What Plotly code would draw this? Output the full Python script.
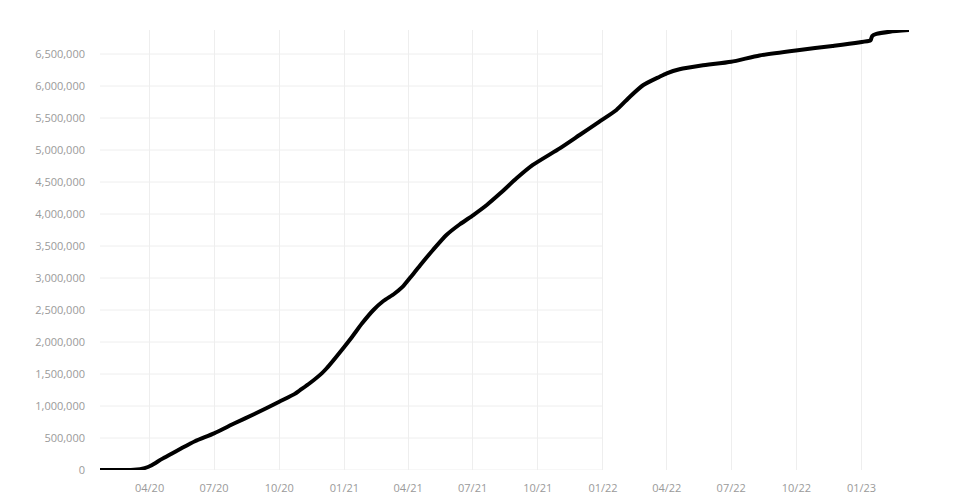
import plotly.graph_objects as go

dates = [
    "2020-01-22", "2020-03-10", "2020-03-25", "2020-04-04", "2020-04-18", "2020-05-02",
    "2020-05-16", "2020-06-04", "2020-07-01", "2020-07-30", "2020-08-27",
    "2020-10-01", "2020-10-23", "2020-10-30", "2020-11-13", "2020-11-30",
    "2020-12-07", "2021-01-01", "2021-01-12", "2021-01-26", "2021-02-11",
    "2021-02-25", "2021-03-12", "2021-03-24", "2021-04-05", "2021-04-18",
    "2021-05-06", "2021-05-25", "2021-06-13", "2021-07-02", "2021-07-21",
    "2021-08-09", "2021-09-01", "2021-09-24", "2021-11-01", "2021-11-29",
    "2021-12-27", "2022-01-20", "2022-02-08", "2022-02-27", "2022-03-22",
    "2022-04-01", "2022-04-19", "2022-05-20", "2022-07-01", "2022-08-10",
    "2022-10-03", "2022-11-21", "2023-01-13", "2023-01-14", "2023-01-16",
    "2023-01-22", "2023-02-10", "2023-03-09",
]
deaths = [
    0, 5000, 30000, 75000, 170000, 255000,
    340000, 450000, 573000, 730000, 875000,
    1067000, 1190000, 1245000, 1355000, 1510000,
    1590000, 1927000, 2083000, 2292000, 2500000,
    2640000, 2750000, 2860000, 3020000, 3200000,
    3438000, 3672000, 3840000, 3984000, 4141000,
    4323000, 4557000, 4766000, 5026000, 5234000,
    5443000, 5625000, 5833000, 6016000, 6145000,
    6198000, 6262000, 6320000, 6378000, 6478000,
    6560000, 6625000, 6710000, 6718000, 6780000,
    6813000, 6849000, 6875000,
]

y_ticks = [0, 500000, 1000000, 1500000, 2000000, 2500000, 3000000,
           3500000, 4000000, 4500000, 5000000, 5500000, 6000000, 6500000]
grid_end = "2022-01-01"
grid_color = "#eeeeee"
label_color = "#9a9a9a"

fig = go.Figure()
fig.add_trace(go.Scatter(
    x=dates, y=deaths, mode="lines",
    line=dict(color="black", width=4, shape="spline", smoothing=0.6),
    showlegend=False,
))

for v in y_ticks:
    fig.add_shape(type="line", xref="x", yref="y",
                  x0=dates[0], x1=grid_end, y0=v, y1=v,
                  line=dict(color=grid_color, width=1), layer="below")

fig.update_layout(
    width=960, height=500,
    margin=dict(l=92, r=59, t=22, b=38),
    paper_bgcolor="white", plot_bgcolor="white",
    font=dict(family="Open Sans", size=11, color=label_color),
    xaxis=dict(
        type="date", range=[dates[0], dates[-1]],
        tick0="2020-04-01", dtick="M3", tickformat="%m/%y",
        showgrid=True, gridcolor=grid_color, gridwidth=1,
        zeroline=False, showline=False, ticks="",
        ticklabelstandoff=10,
        tickfont=dict(size=11, color=label_color),
    ),
    yaxis=dict(
        range=[0, 6875000],
        tickvals=y_ticks, tickformat=",",
        showgrid=False, zeroline=False, showline=False, ticks="",
        ticklabelstandoff=14,
        tickfont=dict(size=11, color=label_color),
    ),
)

fig.write_html("out.html")
